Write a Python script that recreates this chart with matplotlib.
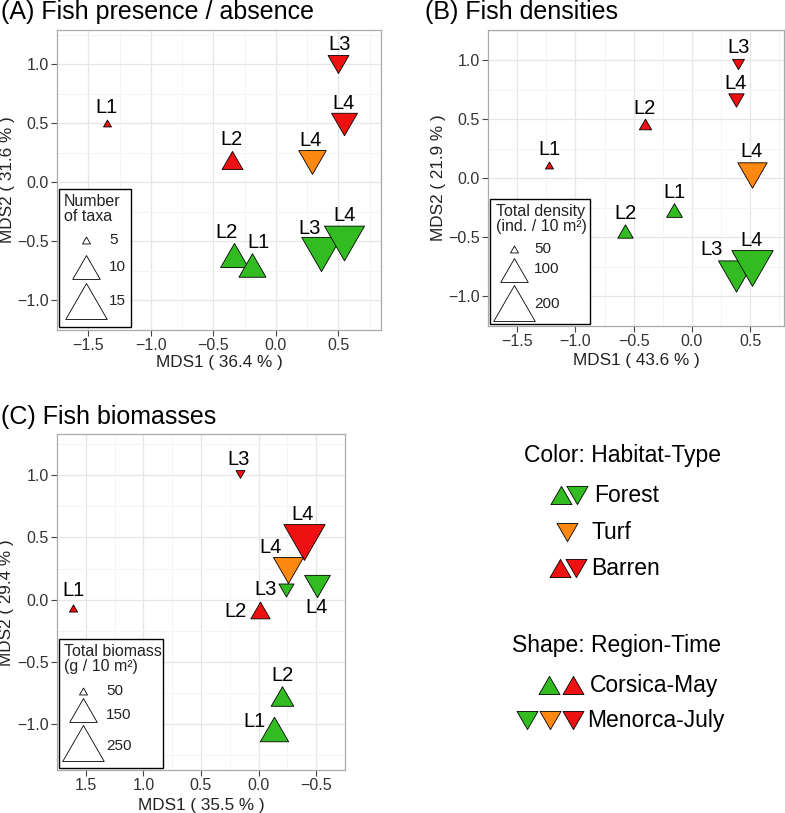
import numpy as np
import matplotlib
matplotlib.use("Agg")
import matplotlib.pyplot as plt
from matplotlib.path import Path
from matplotlib.patches import Rectangle

plt.rcParams['font.family'] = ['Liberation Sans', 'DejaVu Sans']

# ---------------- data ----------------
habitat_colors = {"Forest": "#33BB22", "Turf": "#FF8811", "Barren": "#EE1111"}

# Panel A: presence / absence
a_labels = ["L1", "L2", "L4", "L3", "L4", "L2", "L1", "L3", "L4"]
a_habitat = ["Barren", "Barren", "Turf", "Barren", "Barren", "Forest", "Forest", "Forest", "Forest"]
a_region = ["Corsica-May", "Corsica-May", "Menorca-July", "Menorca-July", "Menorca-July",
            "Corsica-May", "Corsica-May", "Menorca-July", "Menorca-July"]
a_mds1 = [-1.354, -0.354, 0.285, 0.50, 0.545, -0.338, -0.195, 0.359, 0.545]
a_mds2 = [0.506, 0.19, 0.17, 1.0, 0.496, -0.618, -0.697, -0.608, -0.517]
a_taxa = [5.0, 8.3, 10.0, 8.3, 9.6, 10.1, 9.9, 14.3, 14.5]
a_breaks = [5, 10, 15]

# Panel B: densities
b_labels = ["L1", "L2", "L3", "L4", "L4", "L1", "L2", "L3", "L4"]
b_habitat = ["Barren", "Barren", "Barren", "Barren", "Turf", "Forest", "Forest", "Forest", "Forest"]
b_region = ["Corsica-May", "Corsica-May", "Menorca-July", "Menorca-July", "Menorca-July",
            "Corsica-May", "Corsica-May", "Menorca-July", "Menorca-July"]
b_mds1 = [-1.229, -0.404, 0.394, 0.374, 0.514, -0.151, -0.572, 0.382, 0.518]
b_mds2 = [0.111, 0.463, 0.969, 0.661, 0.03, -0.272, -0.449, -0.828, -0.761]
b_density = [50, 61, 60, 69, 113, 70, 69, 161, 199]
b_breaks = [50, 100, 200]

# Panel C: biomasses
c_labels = ["L1", "L3", "L4", "L4", "L3", "L4", "L2", "L2", "L1"]
c_habitat = ["Barren", "Barren", "Barren", "Turf", "Forest", "Forest", "Barren", "Forest", "Forest"]
c_region = ["Corsica-May", "Menorca-July", "Menorca-July", "Menorca-July", "Menorca-July",
            "Menorca-July", "Corsica-May", "Corsica-May", "Corsica-May"]
c_mds1 = [1.613, 0.163, -0.392, -0.258, -0.237, -0.505, -0.009, -0.205, -0.138]
c_mds2 = [-0.068, 1.01, 0.467, 0.242, 0.081, 0.109, -0.082, -0.771, -1.035]
c_biomass = [51, 55, 249, 168, 86, 141, 108, 125, 156]
c_breaks = [50, 150, 250]

# ---------------- layout helpers ----------------
W, H = 785, 813
DPI = 100
fig = plt.figure(figsize=(W / DPI, H / DPI), dpi=DPI)

LEG_W = [8, 27.5, 41.5]   # pixel widths of legend triangles
LABEL_FS = 14.5


def width_px(v, breaks):
    b = np.asarray(breaks, float)
    w = np.asarray(LEG_W, float)
    if v < b[0]:
        return w[0] + (v - b[0]) * (w[1] - w[0]) / (b[1] - b[0])
    return float(np.interp(v, b, w))


def s_from_w(w):
    return (w * 72.0 / DPI) ** 2


h = np.sqrt(3) / 4
UP = Path([(0, h), (-0.5, -h), (0.5, -h), (0, h)],
          [Path.MOVETO, Path.LINETO, Path.LINETO, Path.CLOSEPOLY])
DOWN = Path([(0, -h), (-0.5, h), (0.5, h), (0, -h)],
            [Path.MOVETO, Path.LINETO, Path.LINETO, Path.CLOSEPOLY])
shape_for = {"Corsica-May": UP, "Menorca-July": DOWN}


def px_axes(l, t, r, b):
    return fig.add_axes([l / W, 1 - b / H, (r - l) / W, (b - t) / H])


def style_axes(ax, xlim, ylim, xticks, yticks):
    ax.set_xlim(*xlim)
    ax.set_ylim(*ylim)
    ax.set_xticks(xticks)
    ax.set_yticks(yticks)
    xt = np.asarray(xticks)
    yt = np.asarray(yticks)
    ax.set_xticks(list((xt[:-1] + xt[1:]) / 2) + [xt[-1] + (xt[1] - xt[0]) / 2, xt[0] - (xt[1] - xt[0]) / 2], minor=True)
    ax.set_yticks(list((yt[:-1] + yt[1:]) / 2) + [yt[-1] + (yt[1] - yt[0]) / 2, yt[0] - (yt[1] - yt[0]) / 2], minor=True)
    ax.grid(True, which='major', color='#E6E6E6', linewidth=0.9, zorder=0)
    ax.grid(True, which='minor', color='#F4F4F4', linewidth=0.7, zorder=0)
    ax.set_axisbelow(True)
    ax.tick_params(which='minor', length=0)
    ax.tick_params(which='major', length=4, width=0.8, color='#444444',
                   labelsize=11.5, labelcolor='#333333', pad=2)
    ax.set_xticklabels([f"{v:.1f}".replace('-', '\u2212') for v in xticks])
    ax.set_yticklabels([f"{v:.1f}".replace('-', '\u2212') for v in yticks])
    for sp in ax.spines.values():
        sp.set_color('#AAAAAA')
        sp.set_linewidth(0.9)


def draw_points(ax, x, y, vals, breaks, habitat, region, labels, offsets):
    for i in range(len(x)):
        w = width_px(vals[i], breaks)
        ax.scatter([x[i]], [y[i]], s=s_from_w(w), marker=shape_for[region[i]],
                   facecolor=habitat_colors[habitat[i]], edgecolor='black',
                   linewidth=0.6, zorder=3 + i * 0.01)
        dx, dy = offsets[i]
        ax.annotate(labels[i], (x[i], y[i]), xytext=(dx * 0.72, -dy * 0.72),
                    textcoords='offset points', ha='center', va='center',
                    fontsize=LABEL_FS, color='black', zorder=5)


# label offsets (pixels, +dy = downward)
a_off = [(0, -15), (0, -20), (-1, -22), (1, -20), (-1, -20), (-7, -23), (7, -22), (-11, -26), (0, -28)]
b_off = [(1, -16), (0, -15), (1, -16), (0, -17), (0, -23), (0, -18), (0, -18), (-25, -27), (-1, -28)]
c_off = [(1, -18), (-1, -14), (-1, -27), (-18, -22), (-20, 0), (0, 21), (-24, 2), (0, -20), (-20, -7)]

# ---------------- panel A ----------------
axA = px_axes(57, 30, 381, 330)
style_axes(axA, (-1.643, 0.84), (-1.005, 1.29), [-1.5, -1.0, -0.5, 0.0, 0.5], [-1.0, -0.5, 0.0, 0.5, 1.0])
draw_points(axA, a_mds1, a_mds2, a_taxa, a_breaks, a_habitat, a_region, a_labels, a_off)

# ---------------- panel B ----------------
axB = px_axes(488, 30, 784, 326)
style_axes(axB, (-1.51, 0.79), (-1.06, 1.256), [-1.5, -1.0, -0.5, 0.0, 0.5], [-1.0, -0.5, 0.0, 0.5, 1.0])
draw_points(axB, b_mds1, b_mds2, b_density, b_breaks, b_habitat, b_region, b_labels, b_off)

# ---------------- panel C ----------------
axC = px_axes(57, 434, 345, 770)
style_axes(axC, (1.714, -0.607), (-1.367, 1.33), [1.5, 1.0, 0.5, 0.0, -0.5], [-1.0, -0.5, 0.0, 0.5, 1.0])
draw_points(axC, c_mds1, c_mds2, c_biomass, c_breaks, c_habitat, c_region, c_labels, c_off)


def ftext(x, y, s, **kw):
    fig.text(x / W, 1 - y / H, s, **kw)


# titles
ftext(1, 18.5, "(A) Fish presence / absence", fontsize=18, va='baseline', ha='left')
ftext(425, 18.5, "(B) Fish densities", fontsize=18, va='baseline', ha='left')
ftext(1, 423.5, "(C) Fish biomasses", fontsize=18, va='baseline', ha='left')

# axis labels
AXFS = 12.3
ftext(219, 362.7, "MDS1 ( 36.4 % )", fontsize=AXFS, ha='center', va='center', color='#222222')
ftext(8, 180, "MDS2 ( 31.6 % )", fontsize=AXFS, ha='center', va='center', rotation=90, color='#222222')
ftext(636.7, 360, "MDS1 ( 43.6 % )", fontsize=AXFS, ha='center', va='center', color='#222222')
ftext(439, 177.5, "MDS2 ( 21.9 % )", fontsize=AXFS, ha='center', va='center', rotation=90, color='#222222')
ftext(201, 805, "MDS1 ( 35.5 % )", fontsize=AXFS, ha='center', va='center', color='#222222')
ftext(7, 603, "MDS2 ( 29.4 % )", fontsize=AXFS, ha='center', va='center', rotation=90, color='#222222')

# ---------------- overlay in pixel coordinates ----------------
ov = fig.add_axes([0, 0, 1, 1], zorder=10)
ov.set_xlim(0, W)
ov.set_ylim(H, 0)
ov.axis('off')
ov.patch.set_alpha(0)


def size_legend(box, title, title_xy, tri_x, rows, lab_x, breaks):
    l, t, r, b = box
    ov.add_patch(Rectangle((l, t), r - l, b - t, facecolor='white', edgecolor='black', linewidth=1.0, zorder=1))
    ov.text(title_xy[0], title_xy[1], title, fontsize=11.5, ha='left', va='top', linespacing=1.0, color='#222222', zorder=2)
    for (ty, ly), v in zip(rows, breaks):
        w = width_px(v, breaks)
        ov.scatter([tri_x], [ty], s=s_from_w(w), marker=UP, facecolor='white', edgecolor='black', linewidth=0.6, zorder=3)
        ov.text(lab_x, ly, str(v), fontsize=11, ha='left', va='center', color='#222222', zorder=3)


size_legend((58.7, 189.3, 131, 327.3), "Number\nof taxa", (64, 194), 85.7,
            [(240, 240), (266.7, 266.7), (300.8, 301)], 109, a_breaks)
size_legend((490, 199.3, 590, 324), "Total density\n(ind. / 10 m²)", (496, 204), 514,
            [(249.3, 249.3), (269.7, 269.3), (302.8, 304)], 534, b_breaks)
size_legend((58.7, 639.3, 162.7, 768.3), "Total biomass\n(g / 10 m²)", (64, 644), 83.3,
            [(690.7, 690.7), (710, 715), (743.3, 746)], 106, c_breaks)

# habitat / region legend
LW = 21
LEGFS = 16.5
ov.text(524.3, 455, "Color: Habitat-Type", fontsize=LEGFS, ha='left', va='center')
ov.text(512.3, 645, "Shape: Region-Time", fontsize=LEGFS, ha='left', va='center')

legend_rows = [
    (495, [(560.7, UP, "Forest"), (576.7, DOWN, "Forest")], 594, "Forest"),
    (532, [(567, DOWN, "Turf")], 591, "Turf"),
    (568, [(560, UP, "Barren"), (575.7, DOWN, "Barren")], 591, "Barren"),
    (685, [(549, UP, "Forest"), (572.7, UP, "Barren")], 590, "Corsica-May"),
    (720, [(527, DOWN, "Forest"), (549.7, DOWN, "Turf"), (572.7, DOWN, "Barren")], 587, "Menorca-July"),
]
for y, marks, tx, label in legend_rows:
    for mx, mk, hab in marks:
        ov.scatter([mx], [y], s=s_from_w(LW), marker=mk, facecolor=habitat_colors[hab],
                   edgecolor='black', linewidth=0.6, zorder=3)
    ov.text(tx, y, label, fontsize=LEGFS, ha='left', va='center')

fig.savefig("out.png", dpi=DPI)
